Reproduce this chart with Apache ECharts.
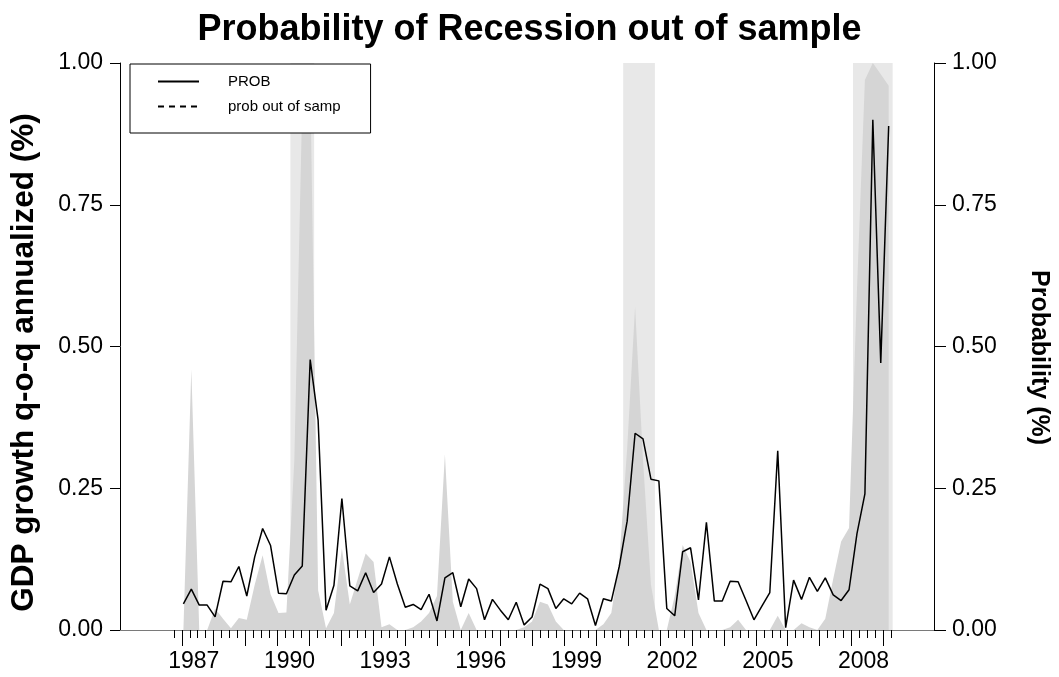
<!DOCTYPE html>
<html>
<head>
<meta charset="utf-8">
<script src="https://cdn.jsdelivr.net/npm/echarts@6/dist/echarts.min.js"></script>
<style>
  html, body { margin: 0; padding: 0; background: #fff; }
  #main { width: 1059px; height: 677px; }
</style>
</head>
<body>
<div id="main"></div>
<script>
// quarterly data, 1987Q1 .. 2009Q2
const startYear = 1987;

// PROB (solid line)
const prob = [
  0.046, 0.072, 0.044, 0.044, 0.023, 0.086, 0.085, 0.112, 0.060, 0.129,
  0.179, 0.149, 0.065, 0.064, 0.097, 0.113, 0.477, 0.370, 0.035, 0.079,
  0.232, 0.078, 0.069, 0.101, 0.066, 0.081, 0.129, 0.081, 0.040, 0.045,
  0.036, 0.063, 0.016, 0.092, 0.101, 0.041, 0.090, 0.073, 0.018, 0.054,
  0.035, 0.018, 0.049, 0.009, 0.023, 0.081, 0.073, 0.038, 0.055, 0.046,
  0.065, 0.055, 0.008, 0.055, 0.051, 0.112, 0.192, 0.347, 0.337, 0.266,
  0.263, 0.038, 0.025, 0.138, 0.145, 0.053, 0.190, 0.051, 0.051, 0.086,
  0.085, 0.052, 0.018, 0.042, 0.066, 0.316, 0.004, 0.088, 0.054, 0.093,
  0.068, 0.092, 0.062, 0.052, 0.071, 0.170, 0.240, 0.900, 0.471, 0.889
];

// prob out of samp (dashed) - nothing visible in the picture
const probOutOfSamp = [];

// grey filled area
const shadeProb = [
  0.000, 0.460, 0.000, 0.000, 0.038, 0.020, 0.003, 0.021, 0.018, 0.080,
  0.132, 0.063, 0.030, 0.031, 0.300, 0.930, 0.980, 0.070, 0.003, 0.030,
  0.144, 0.045, 0.090, 0.135, 0.120, 0.005, 0.010, 0.000, 0.000, 0.005,
  0.015, 0.030, 0.060, 0.310, 0.050, 0.000, 0.030, 0.000, 0.000, 0.000,
  0.000, 0.000, 0.000, 0.005, 0.015, 0.050, 0.045, 0.015, 0.000, 0.000,
  0.000, 0.000, 0.000, 0.010, 0.030, 0.120, 0.320, 0.570, 0.300, 0.080,
  0.000, 0.000, 0.060, 0.150, 0.120, 0.030, 0.000, 0.000, 0.000, 0.005,
  0.018, 0.000, 0.000, 0.000, 0.000, 0.025, 0.000, 0.000, 0.012, 0.005,
  0.000, 0.020, 0.090, 0.156, 0.180, 0.600, 0.970, 1.000, 0.980, 0.960
];

// recession quarters (first / last)
const recessionStart = [1990.5, 2001.0, 2008.25];
const recessionEnd = [1991.0, 2001.75, 2009.25];

const yearLabels = [1987, 1990, 1993, 1996, 1999, 2002, 2005, 2008];

// layout
const plotLeft = 118, plotRight = 937, plotTop = 63, plotBottom = 630;
const xMin = 1985, xMax = 2010.68;
const ppy = (plotRight - plotLeft) / (xMax - xMin);
const px = d => plotLeft + (d - xMin) * ppy;
const font = 'Liberation Sans, Arial, sans-serif';

const quarters = prob.map((v, i) => startYear + i * 0.25);

const chart = echarts.init(document.getElementById('main'));

const hiddenY = (g) => ({ gridIndex: g, type: 'value', min: 0, max: 1, show: false });

const option = {
  animation: false,
  backgroundColor: '#fff',
  textStyle: { fontFamily: font },
  title: {
    text: 'Probability of Recession out of sample',
    left: 'center',
    top: 12,
    padding: 0,
    textStyle: { fontSize: 36, fontWeight: 'bold', color: '#000', fontFamily: font }
  },
  legend: {
    data: ['PROB', 'prob out of samp'],
    orient: 'vertical',
    left: 130,
    top: 64,
    padding: [10, 30, 19, 27],
    itemGap: 10,
    itemWidth: 41,
    itemHeight: 14,
    selectedMode: false,
    borderColor: '#000',
    borderWidth: 1,
    backgroundColor: '#fff',
    itemStyle: { opacity: 0 },
    textStyle: { fontSize: 15, color: '#000', padding: [0, 0, 0, 24], fontFamily: font }
  },
  grid: [
    { left: plotLeft, top: plotTop, width: plotRight - plotLeft, height: plotBottom - plotTop },
    { left: px(1986.75), top: plotTop, width: px(2009.25) - px(1986.75), height: plotBottom - plotTop },
    { left: px(1987), top: plotTop, width: px(2009) - px(1987), height: plotBottom - plotTop }
  ],
  xAxis: [
    {
      gridIndex: 0, type: 'value', min: xMin, max: xMax, z: 10,
      axisLine: { lineStyle: { color: '#000', width: 1 } },
      axisTick: { show: false }, axisLabel: { show: false }, splitLine: { show: false }
    },
    {
      gridIndex: 0, type: 'value', position: 'top', min: xMin, max: xMax, z: 10,
      axisLine: { lineStyle: { color: '#7a7a7a', width: 1 } },
      axisTick: { show: false }, axisLabel: { show: false }, splitLine: { show: false }
    },
    {
      // quarterly ticks
      gridIndex: 1, type: 'value', min: 1986.75, max: 2009.25, interval: 0.25, z: 10,
      axisLine: { show: false },
      axisTick: { show: true, length: 8, lineStyle: { color: '#000' } },
      axisLabel: { show: false }, splitLine: { show: false }
    },
    {
      // yearly ticks + labels
      gridIndex: 2, type: 'value', min: 1987, max: 2009, interval: 1, z: 10,
      axisLine: { show: false },
      axisTick: { show: true, length: 16, lineStyle: { color: '#000' } },
      axisLabel: {
        fontSize: 23, color: '#000', margin: 20, padding: [0, 0, 0, 24],
        formatter: v => (yearLabels.indexOf(Math.round(v)) >= 0 ? String(Math.round(v)) : '')
      },
      splitLine: { show: false }
    }
  ],
  yAxis: [
    {
      gridIndex: 0, type: 'value', position: 'left', min: 0, max: 1, interval: 0.25, z: 10,
      axisLine: { show: true, lineStyle: { color: '#000', width: 1 } },
      axisTick: { show: true, length: 10, lineStyle: { color: '#000' } },
      axisLabel: { fontSize: 23, color: '#000', margin: 17, formatter: v => v.toFixed(2) },
      splitLine: { show: false },
      name: 'GDP growth q-o-q annualized (%)',
      nameLocation: 'middle',
      nameGap: 80,
      nameTextStyle: { fontSize: 31.5, fontWeight: 'bold', color: '#000', fontFamily: font, padding: [0, 32, 0, 0] }
    },
    {
      gridIndex: 0, type: 'value', position: 'right', min: 0, max: 1, interval: 0.25, z: 10,
      axisLine: { show: true, lineStyle: { color: '#000', width: 1 } },
      axisTick: { show: true, length: 12, lineStyle: { color: '#000' } },
      axisLabel: { fontSize: 23, color: '#000', margin: 18, formatter: v => v.toFixed(2) },
      splitLine: { show: false },
      name: 'Probability (%)',
      nameLocation: 'middle',
      nameRotate: -90,
      nameGap: 92,
      nameTextStyle: { fontSize: 25, fontWeight: 'bold', color: '#000', fontFamily: font, padding: [0, 0, 0, 22] }
    },
    hiddenY(1),
    hiddenY(2)
  ],
  series: [
    {
      name: 'shade',
      type: 'line',
      xAxisIndex: 0, yAxisIndex: 0,
      data: quarters.map((d, i) => [d, shadeProb[i]]),
      symbol: 'none',
      silent: true,
      z: 2,
      lineStyle: { width: 0 },
      areaStyle: { color: '#d5d5d5', opacity: 1 },
      markArea: {
        silent: true,
        itemStyle: { color: '#e8e8e8' },
        data: recessionStart.map((s, k) => [{ xAxis: s - 0.125 }, { xAxis: recessionEnd[k] + 0.125 }])
      }
    },
    {
      name: 'PROB',
      type: 'line',
      xAxisIndex: 0, yAxisIndex: 0,
      data: quarters.map((d, i) => [d, prob[i]]),
      symbol: 'none',
      z: 4,
      lineStyle: { color: '#000', width: 1.5 },
      itemStyle: { color: '#000' }
    },
    {
      name: 'prob out of samp',
      type: 'line',
      xAxisIndex: 0, yAxisIndex: 0,
      data: probOutOfSamp,
      symbol: 'none',
      z: 4,
      lineStyle: { color: '#000', width: 1.5, type: [6, 5] },
      itemStyle: { color: '#000' }
    }
  ]
};

chart.setOption(option);
</script>
</body>
</html>
